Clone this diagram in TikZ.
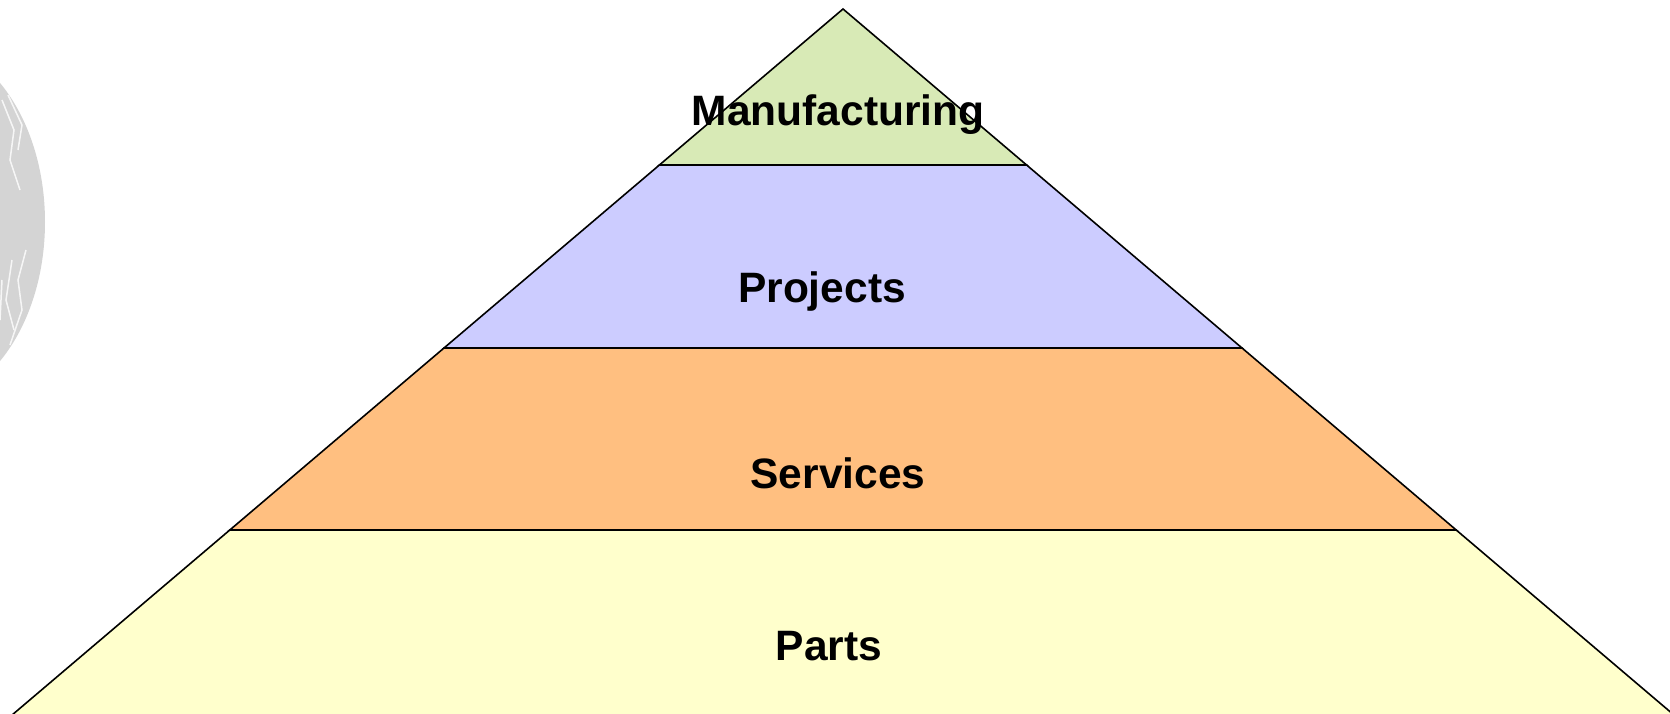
\documentclass[tikz,border=0pt]{standalone}
\usepackage{fontspec}
\setmainfont{Liberation Sans}
\definecolor{topgreen}{RGB}{216,234,182}
\definecolor{projpurple}{RGB}{204,204,255}
\definecolor{servorange}{RGB}{255,191,128}
\definecolor{partyellow}{RGB}{255,255,204}
\definecolor{blobgray}{RGB}{212,212,212}
\tikzset{
  band/.style={draw=black, line width=1.6pt, line join=miter},
  lbl/.style={anchor=base, inner sep=0pt, font=\fontsize{42.5}{50}\selectfont\bfseries},
}
\begin{document}
\begin{tikzpicture}[x=1pt,y=-1pt]
\useasboundingbox (0,0) rectangle (1670,714);
\clip (0,0) rectangle (1670,714);
% watermark blob
\fill[blobgray] (-80,222) ellipse [x radius=125, y radius=181];
\begin{scope}[white, line width=1.5pt, opacity=0.8]
  \draw (2,100) -- (14,130) -- (10,160) -- (20,190);
  \draw (8,95) -- (22,125) -- (18,150);
  \draw (26,250) -- (18,280) -- (22,310) -- (10,345);
  \draw (12,260) -- (6,300) -- (14,330);
  \draw (2,280) -- (0,320);
\end{scope}
% pyramid bands: apex (843,9), slope 1.177
\filldraw[band, fill=partyellow] (229.8,530) -- (1456.2,530) -- (1691.6,730) -- (-5.6,730) -- cycle;
\filldraw[band, fill=servorange] (444,348) -- (1242,348) -- (1456.2,530) -- (229.8,530) -- cycle;
\filldraw[band, fill=projpurple] (659.4,165) -- (1026.6,165) -- (1242,348) -- (444,348) -- cycle;
\filldraw[band, fill=topgreen] (843,9) -- (1026.6,165) -- (659.4,165) -- cycle;
% labels
\node[lbl] (manu) at (838,126) {Manufacturing};
\node[lbl] (proj) at (822,302) {Projects};
\node[lbl] (serv) at (838,488) {Services};
\node[lbl] (parts) at (829,660) {Parts};
\end{tikzpicture}
\end{document}
